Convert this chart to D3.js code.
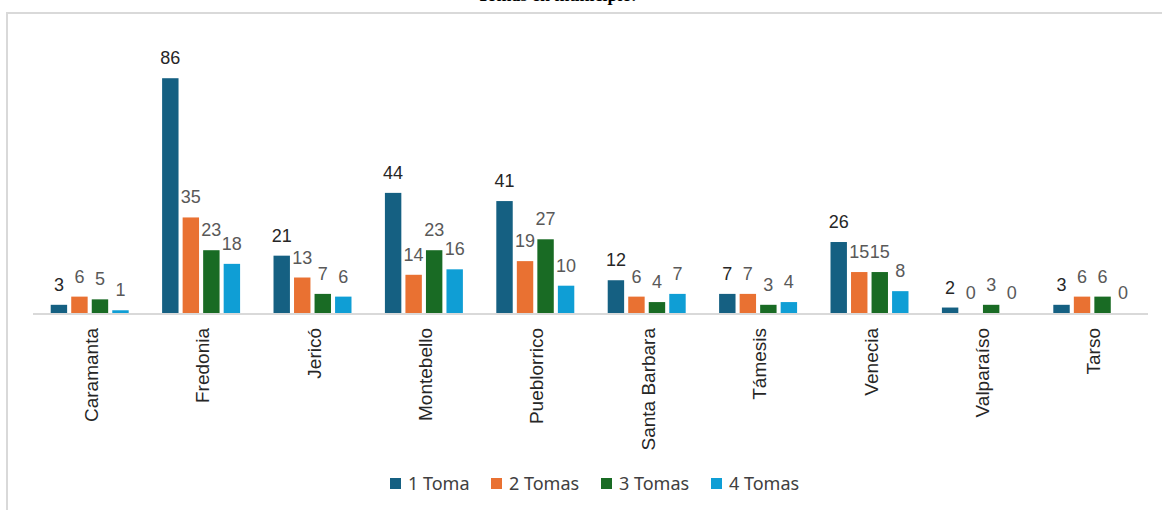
<!DOCTYPE html>
<html>
<head>
<meta charset="utf-8">
<script src="https://cdn.jsdelivr.net/npm/d3@7"></script>
<style>
  body { margin: 0; background: #fff; }
</style>
</head>
<body>
<div id="chart"></div>
<script>
// data
var municipios = ["Caramanta", "Fredonia", "Jericó", "Montebello", "Pueblorrico",
                  "Santa Barbara", "Támesis", "Venecia", "Valparaíso", "Tarso"];
var series = ["1 Toma", "2 Tomas", "3 Tomas", "4 Tomas"];
var toma1 = [3, 86, 21, 44, 41, 12, 7, 26, 2, 3];
var toma2 = [6, 35, 13, 14, 19, 6, 7, 15, 0, 6];
var toma3 = [5, 23, 7, 23, 27, 4, 3, 15, 3, 6];
var toma4 = [1, 18, 6, 16, 10, 7, 4, 8, 0, 0];
var colors = ["#156082", "#E97132", "#196B24", "#0F9ED5"];

var svgWidth = 1162, svgHeight = 510;
var baseY = 313;

var rows = municipios.map(function(m, i){
    return {name: m, values: [toma1[i], toma2[i], toma3[i], toma4[i]]};
});

var svg = d3.select("#chart").append("svg")
    .attr("width", svgWidth)
    .attr("height", svgHeight);

// chart frame (only left and top edges are visible in the crop)
svg.append("line").attr("x1", 7).attr("x2", 7).attr("y1", 13).attr("y2", svgHeight)
    .attr("stroke", "#d9d9d9").attr("stroke-width", 2);
svg.append("line").attr("x1", 6).attr("x2", svgWidth).attr("y1", 13).attr("y2", 13)
    .attr("stroke", "#d9d9d9").attr("stroke-width", 2);

// title, cut off by the top edge as in the reference
svg.append("text")
    .attr("x", 636).attr("y", 1)
    .attr("text-anchor", "end")
    .style("font-family", "'Liberation Serif', serif")
    .style("font-weight", "bold")
    .style("font-size", "18px")
    .text("Tomas en municipio.");

var x0 = d3.scaleBand()
    .domain(municipios)
    .range([34, 1148])
    .paddingInner(0.3)
    .paddingOuter(0.15);

var x1 = d3.scaleBand()
    .domain(series)
    .range([0, x0.bandwidth()])
    .paddingInner(0.2);

var y = d3.scaleLinear()
    .domain([0, 100])
    .range([baseY, 40]);

var groups = svg.selectAll(".grupo")
    .data(rows)
    .enter().append("g")
    .attr("class", "grupo")
    .attr("transform", d => "translate(" + x0(d.name) + ",0)");

groups.selectAll("rect")
    .data(d => d.values.map((v, k) => ({key: series[k], value: v, k: k})))
    .enter().append("rect")
    .attr("x", d => x1(d.key))
    .attr("y", d => y(d.value))
    .attr("width", x1.bandwidth())
    .attr("height", d => y(0) - y(d.value))
    .attr("fill", d => colors[d.k]);

groups.selectAll("text.valor")
    .data(d => d.values.map((v, k) => ({key: series[k], value: v, k: k})))
    .enter().append("text")
    .attr("class", "valor")
    .attr("x", d => x1(d.key) + x1.bandwidth() / 2)
    .attr("y", d => y(d.value) - 14)
    .attr("text-anchor", "middle")
    .style("font-family", "'Liberation Sans', Arial, sans-serif")
    .style("font-size", "18px")
    .style("fill", d => d.k == 0 ? "#262626" : "#595959")
    .text(d => d.value);

// x axis line
svg.append("line")
    .attr("x1", 33).attr("x2", 1148)
    .attr("y1", baseY + 1).attr("y2", baseY + 1)
    .attr("stroke", "#d9d9d9").attr("stroke-width", 2);

// category labels, rotated
svg.selectAll(".cat")
    .data(municipios)
    .enter().append("text")
    .attr("class", "cat")
    .attr("transform", d => "translate(" + (x0(d) + x0.bandwidth() / 2 + 8) + "," + 328 + ") rotate(-90)")
    .attr("text-anchor", "end")
    .style("font-family", "'Liberation Sans', Arial, sans-serif")
    .style("font-size", "19px")
    .style("fill", "#262626")
    .text(d => d);

// legend
var legendX = [390, 491, 601, 711];
var legend = svg.selectAll(".leyenda")
    .data(series)
    .enter().append("g")
    .attr("class", "leyenda")
    .attr("transform", (d, i) => "translate(" + legendX[i] + ",478)");
legend.append("rect")
    .attr("width", 11).attr("height", 11)
    .attr("fill", (d, i) => colors[i]);
legend.append("text")
    .attr("x", 18).attr("y", 12)
    .style("font-family", "'Noto Sans', sans-serif")
    .style("font-size", "18px")
    .style("fill", "#404040")
    .text(d => d);
</script>
</body>
</html>
